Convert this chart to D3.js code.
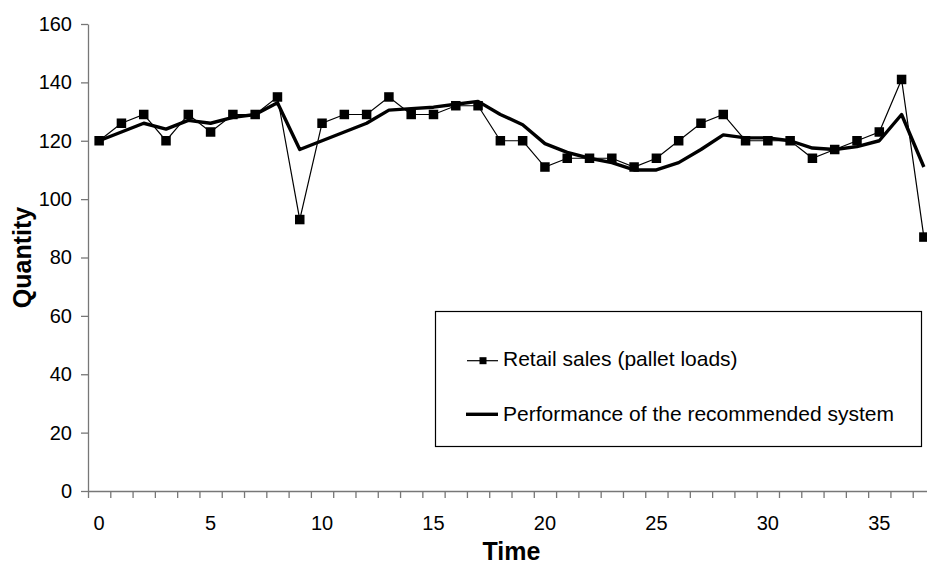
<!DOCTYPE html>
<html>
<head>
<meta charset="utf-8">
<script src="https://cdn.jsdelivr.net/npm/d3@7"></script>
<style>
  html, body { margin: 0; padding: 0; background: #fff; }
  svg { display: block; font-family: "Liberation Sans", Arial, sans-serif; }
</style>
</head>
<body>
<svg id="chart" width="927" height="566"></svg>
<script>
// ---- data ----
const times = d3.range(0, 38);
const retailSales = [120, 126, 129, 120, 129, 123, 129, 129, 135, 93,
                     126, 129, 129, 135, 129, 129, 132, 132, 120, 120,
                     111, 114, 114, 114, 111, 114, 120, 126, 129, 120,
                     120, 120, 114, 117, 120, 123, 141, 87];
const systemPerf  = [120, 123, 126, 124, 127, 126, 128, 129, 133, 117,
                     120, 123, 126, 130.5, 131, 131.5, 132.5, 133.5, 129, 125.5,
                     119, 116, 114, 112.5, 110, 110, 112.5, 117, 122, 121,
                     121, 120, 117.5, 117, 118, 120, 129, 111];
const yTicks = [0, 20, 40, 60, 80, 100, 120, 140, 160];
const xLabels = [0, 5, 10, 15, 20, 25, 30, 35];
const seriesNames = ["Retail sales (pallet loads)", "Performance of the recommended system"];

(function () {
// ---- layout ----
const svg = d3.select("#chart");
const mLeft = 88, mTop = 24, mBottom = 491;
const step = 22.29;
const nCat = 38;
const mRight = mLeft + nCat * step;   // extends beyond the window, as in the reference

const x = d3.scaleLinear().domain([-0.5, nCat - 0.5]).range([mLeft, mRight]);
const y = d3.scaleLinear().domain([0, 160]).range([mBottom, mTop]);

const axisColor = "#777";

// y axis
const yAxis = svg.append("g").attr("transform", `translate(${mLeft},0)`)
  .call(d3.axisLeft(y).tickValues(yTicks).tickSize(7).tickSizeOuter(0).tickPadding(9));
yAxis.select(".domain").attr("stroke", axisColor).attr("stroke-width", 1.3);
yAxis.selectAll(".tick line").attr("stroke", axisColor).attr("stroke-width", 1.3);
yAxis.selectAll("text").attr("font-size", 20).attr("fill", "#000")
  .attr("font-family", "Liberation Sans, Arial, sans-serif");

// x axis: category boundaries as ticks
const tickPos = d3.range(0, nCat + 1).map(i => i - 0.5);
const xAxis = svg.append("g").attr("transform", `translate(0,${mBottom})`)
  .call(d3.axisBottom(x).tickValues(tickPos).tickSize(7).tickSizeOuter(0).tickFormat(""));
xAxis.select(".domain").attr("stroke", axisColor).attr("stroke-width", 1.3);
xAxis.selectAll(".tick line").attr("stroke", axisColor).attr("stroke-width", 1.3);

// x labels at category centres
svg.append("g").selectAll("text").data(xLabels).join("text")
  .attr("x", d => x(d))
  .attr("y", 530)
  .attr("text-anchor", "middle")
  .attr("font-size", 20)
  .attr("fill", "#000")
  .text(d => d);

// axis titles
svg.append("text")
  .attr("x", (mLeft + mRight) / 2)
  .attr("y", 560)
  .attr("text-anchor", "middle")
  .attr("font-size", 25)
  .attr("font-weight", "bold")
  .text("Time");

svg.append("text")
  .attr("transform", `translate(31,${(mTop + mBottom) / 2}) rotate(-90)`)
  .attr("text-anchor", "middle")
  .attr("font-size", 25)
  .attr("font-weight", "bold")
  .text("Quantity");

// ---- series ----
const line = d3.line().x((d, i) => x(times[i])).y(d => y(d));

svg.append("path")
  .datum(retailSales)
  .attr("d", line)
  .attr("fill", "none")
  .attr("stroke", "#000")
  .attr("stroke-width", 1.2);

const ms = 9.5;
svg.append("g").selectAll("rect").data(retailSales).join("rect")
  .attr("x", (d, i) => x(times[i]) - ms / 2)
  .attr("y", d => y(d) - ms / 2)
  .attr("width", ms)
  .attr("height", ms)
  .attr("fill", "#000");

svg.append("path")
  .datum(systemPerf)
  .attr("d", line)
  .attr("fill", "none")
  .attr("stroke", "#000")
  .attr("stroke-width", 3.4)
  .attr("stroke-linejoin", "round");

// ---- legend ----
const lg = svg.append("g");
lg.append("rect")
  .attr("x", 435.5).attr("y", 311.5)
  .attr("width", 486).attr("height", 135)
  .attr("fill", "#fff")
  .attr("stroke", "#000")
  .attr("stroke-width", 1.2);

const ly1 = 360.7, ly2 = 414.3;
lg.append("line").attr("x1", 467).attr("x2", 498).attr("y1", ly1).attr("y2", ly1)
  .attr("stroke", "#000").attr("stroke-width", 1.2);
lg.append("rect").attr("x", 479.5).attr("y", ly1 - 3.5).attr("width", 7).attr("height", 7).attr("fill", "#000");
lg.append("line").attr("x1", 466).attr("x2", 498).attr("y1", ly2).attr("y2", ly2)
  .attr("stroke", "#000").attr("stroke-width", 3.4);

lg.selectAll("text.lbl").data(seriesNames).join("text")
  .attr("class", "lbl")
  .attr("x", 503)
  .attr("y", (d, i) => i === 0 ? ly1 + 4.8 : ly2 + 7)
  .attr("font-size", 21)
  .attr("fill", "#000")
  .text(d => d);
})();
</script>
</body>
</html>
